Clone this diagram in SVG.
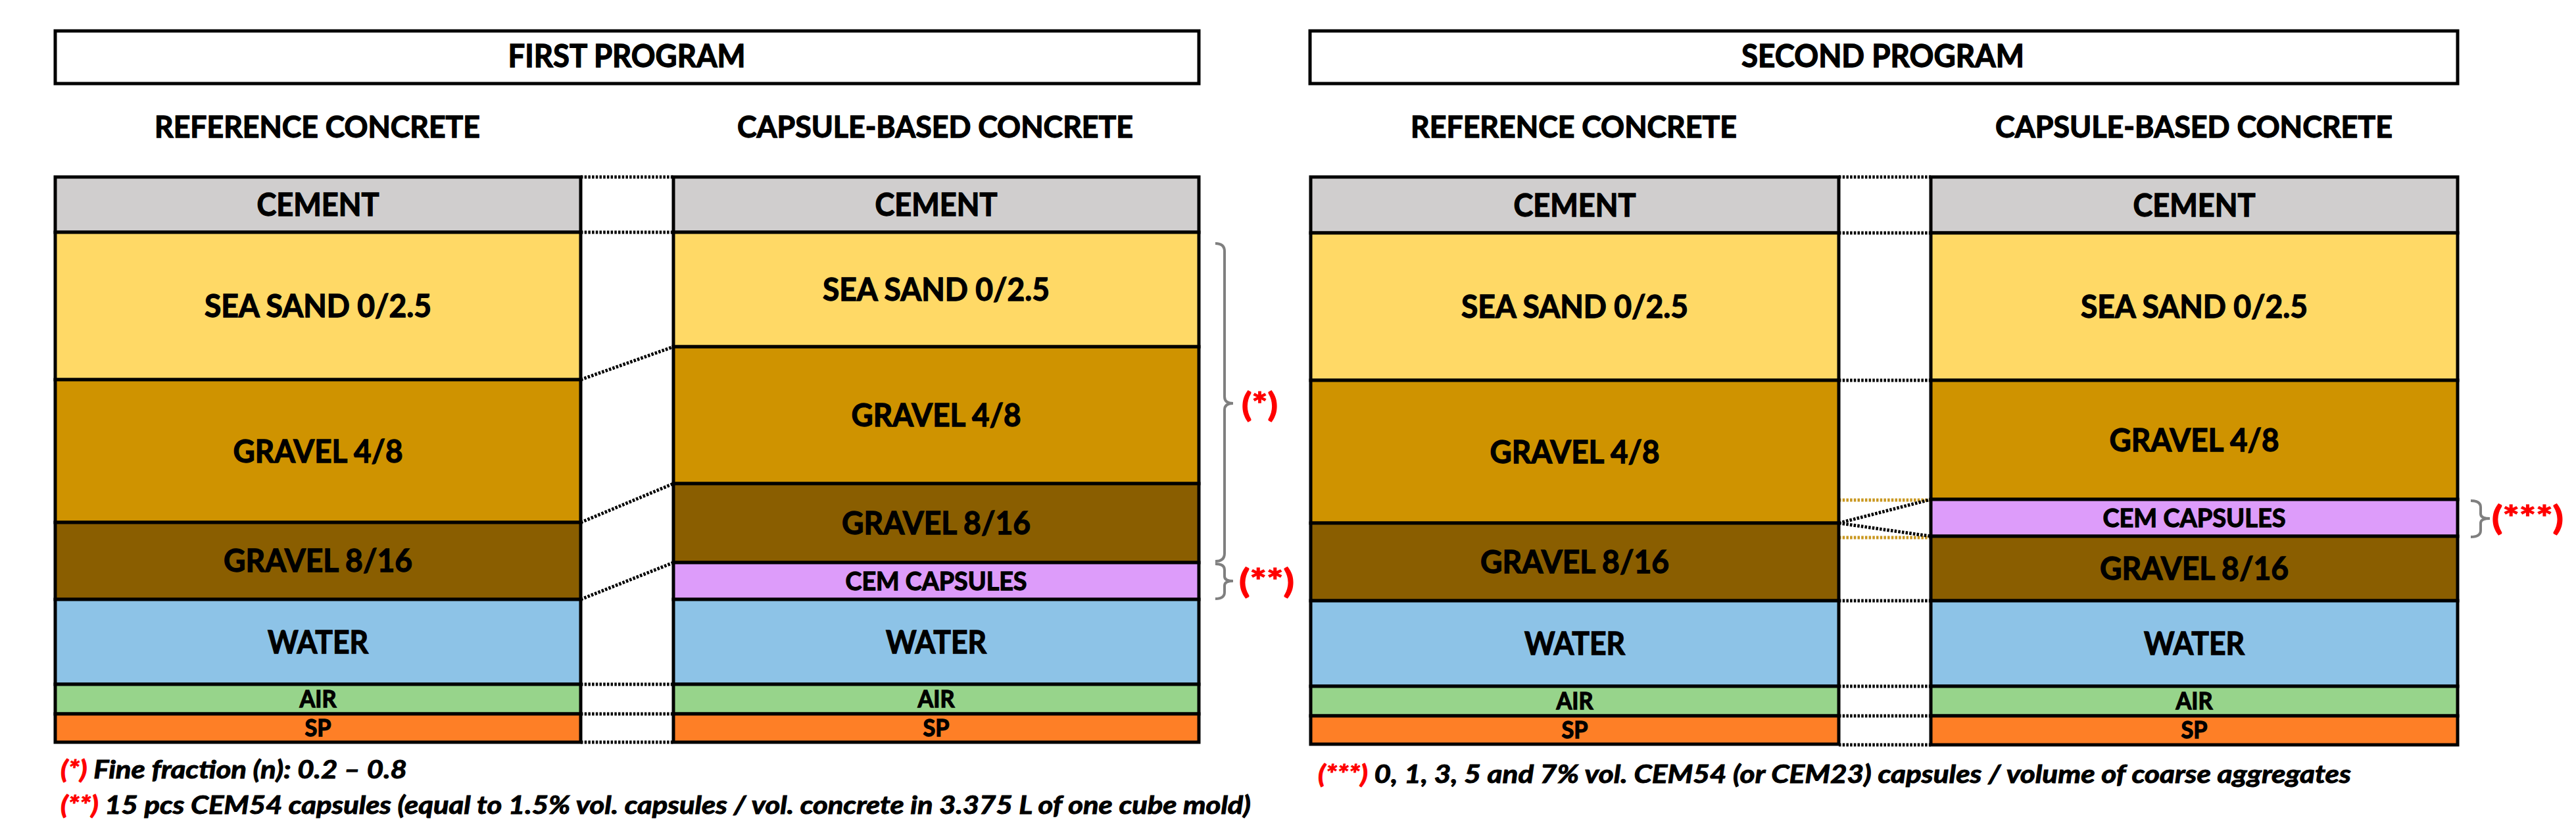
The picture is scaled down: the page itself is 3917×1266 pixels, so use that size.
<svg xmlns="http://www.w3.org/2000/svg" width="3917" height="1266" viewBox="0 0 3917 1266">
<style>
  text { font-family: Lato, "Liberation Sans", "DejaVu Sans", sans-serif; font-weight: bold; fill: #000; stroke: #000; stroke-width: 1.3; }
  .box { fill: #fff; stroke: #000; stroke-width: 5; }
  .lay { stroke: #000; stroke-width: 5; }
  .cem { fill: #d0cece; }
  .sand { fill: #ffd966; }
  .g48 { fill: #cf9300; }
  .g816 { fill: #8a5e00; }
  .caps { fill: #dd9cfa; }
  .wat { fill: #8dc3e7; }
  .air { fill: #97d48b; }
  .sp { fill: #fe7f26; }
  .lbl { font-size: 48px; text-anchor: middle; }
  .sm { font-size: 36px; text-anchor: middle; }
  .cl { font-size: 39px; text-anchor: middle; }
  .hdr { font-size: 46px; text-anchor: middle; }
  .ttl { font-size: 47px; text-anchor: middle; }
  .note { font-size: 38px; font-style: italic; stroke-width: 1; }
  .red { fill: #ff0000; stroke: #ff0000; }
  .mark { font-size: 50px; fill: #ff0000; stroke: #ff0000; }
  .dot { stroke: #000; stroke-width: 5; stroke-dasharray: 3.5 2.2; fill: none; }
  .gold { stroke: #c9971f; stroke-width: 5; stroke-dasharray: 3.5 2.2; fill: none; }
  .brace { stroke: #7f7f7f; stroke-width: 4; fill: none; }
</style>

<g id="connectors">
  <line class="dot" x1="883" y1="269" x2="1024" y2="269"/>
  <line class="dot" x1="883" y1="353" x2="1024" y2="353"/>
  <line class="dot" x1="883" y1="577" x2="1024" y2="527"/>
  <line class="dot" x1="883" y1="794" x2="1024" y2="735"/>
  <line class="dot" x1="883" y1="911" x2="1024" y2="855"/>
  <line class="dot" x1="883" y1="1040" x2="1024" y2="1040"/>
  <line class="dot" x1="883" y1="1085" x2="1024" y2="1085"/>
  <line class="dot" x1="883" y1="1128" x2="1024" y2="1128"/>

  <line class="dot" x1="2796" y1="269" x2="2936" y2="269"/>
  <line class="dot" x1="2796" y1="354" x2="2936" y2="354"/>
  <line class="dot" x1="2796" y1="578" x2="2936" y2="578"/>
  <line class="gold" x1="2796" y1="760" x2="2936" y2="760"/>
  <line class="gold" x1="2796" y1="817" x2="2936" y2="817"/>
  <line class="dot" x1="2796" y1="795" x2="2936" y2="759"/>
  <line class="dot" x1="2796" y1="795" x2="2936" y2="815"/>
  <line class="dot" x1="2796" y1="913" x2="2936" y2="913"/>
  <line class="dot" x1="2796" y1="1043" x2="2936" y2="1043"/>
  <line class="dot" x1="2796" y1="1088" x2="2936" y2="1088"/>
  <line class="dot" x1="2796" y1="1132" x2="2936" y2="1132"/>
</g>

<g id="first-program-title">
  <rect class="box" x="84" y="47" width="1739" height="80"/>
  <text class="ttl" x="953" y="102" textLength="361" lengthAdjust="spacingAndGlyphs">FIRST PROGRAM</text>
</g>
<g id="second-program-title">
  <rect class="box" x="1992" y="47" width="1745" height="80"/>
  <text class="ttl" x="2863" y="102" textLength="430" lengthAdjust="spacingAndGlyphs">SECOND PROGRAM</text>
</g>

<g id="headers">
  <text class="hdr" x="482.5" y="209" textLength="495" lengthAdjust="spacingAndGlyphs">REFERENCE CONCRETE</text>
  <text class="hdr" x="1422" y="209" textLength="602" lengthAdjust="spacingAndGlyphs">CAPSULE-BASED CONCRETE</text>
  <text class="hdr" x="2393" y="209" textLength="496" lengthAdjust="spacingAndGlyphs">REFERENCE CONCRETE</text>
  <text class="hdr" x="3336" y="209" textLength="604" lengthAdjust="spacingAndGlyphs">CAPSULE-BASED CONCRETE</text>
</g>

<!-- First program, reference concrete -->
<g id="p1-ref">
  <g id="p1-ref-cement"><rect class="lay cem" x="84" y="269" width="799" height="84"/><text class="lbl" x="483.5" y="328" textLength="186" lengthAdjust="spacingAndGlyphs">CEMENT</text></g>
  <g id="p1-ref-sand"><rect class="lay sand" x="84" y="353" width="799" height="224"/><text class="lbl" x="483.5" y="482" textLength="345" lengthAdjust="spacingAndGlyphs">SEA SAND 0/2.5</text></g>
  <g id="p1-ref-g48"><rect class="lay g48" x="84" y="577" width="799" height="217"/><text class="lbl" x="483.5" y="703" textLength="258" lengthAdjust="spacingAndGlyphs">GRAVEL 4/8</text></g>
  <g id="p1-ref-g816"><rect class="lay g816" x="84" y="794" width="799" height="117"/><text class="lbl" x="483.5" y="869" textLength="287" lengthAdjust="spacingAndGlyphs">GRAVEL 8/16</text></g>
  <g id="p1-ref-water"><rect class="lay wat" x="84" y="911" width="799" height="129"/><text class="lbl" x="483.5" y="993" textLength="153" lengthAdjust="spacingAndGlyphs">WATER</text></g>
  <g id="p1-ref-air"><rect class="lay air" x="84" y="1040" width="799" height="45"/><text class="sm" x="483.5" y="1075" textLength="56" lengthAdjust="spacingAndGlyphs">AIR</text></g>
  <g id="p1-ref-sp"><rect class="lay sp" x="84" y="1085" width="799" height="43"/><text class="sm" x="483.5" y="1119" textLength="40" lengthAdjust="spacingAndGlyphs">SP</text></g>
</g>

<!-- First program, capsule-based concrete -->
<g id="p1-cap">
  <g id="p1-cap-cement"><rect class="lay cem" x="1024" y="269" width="799" height="84"/><text class="lbl" x="1423.5" y="328" textLength="186" lengthAdjust="spacingAndGlyphs">CEMENT</text></g>
  <g id="p1-cap-sand"><rect class="lay sand" x="1024" y="353" width="799" height="174"/><text class="lbl" x="1423.5" y="457" textLength="345" lengthAdjust="spacingAndGlyphs">SEA SAND 0/2.5</text></g>
  <g id="p1-cap-g48"><rect class="lay g48" x="1024" y="527" width="799" height="208"/><text class="lbl" x="1423.5" y="648" textLength="258" lengthAdjust="spacingAndGlyphs">GRAVEL 4/8</text></g>
  <g id="p1-cap-g816"><rect class="lay g816" x="1024" y="735" width="799" height="120"/><text class="lbl" x="1423.5" y="812" textLength="287" lengthAdjust="spacingAndGlyphs">GRAVEL 8/16</text></g>
  <g id="p1-cap-caps"><rect class="lay caps" x="1024" y="855" width="799" height="56"/><text class="cl" x="1423.5" y="897" textLength="276" lengthAdjust="spacingAndGlyphs">CEM CAPSULES</text></g>
  <g id="p1-cap-water"><rect class="lay wat" x="1024" y="911" width="799" height="129"/><text class="lbl" x="1423.5" y="993" textLength="153" lengthAdjust="spacingAndGlyphs">WATER</text></g>
  <g id="p1-cap-air"><rect class="lay air" x="1024" y="1040" width="799" height="45"/><text class="sm" x="1423.5" y="1075" textLength="56" lengthAdjust="spacingAndGlyphs">AIR</text></g>
  <g id="p1-cap-sp"><rect class="lay sp" x="1024" y="1085" width="799" height="43"/><text class="sm" x="1423.5" y="1119" textLength="40" lengthAdjust="spacingAndGlyphs">SP</text></g>
</g>

<!-- Second program, reference concrete -->
<g id="p2-ref">
  <g id="p2-ref-cement"><rect class="lay cem" x="1993" y="269" width="803" height="85"/><text class="lbl" x="2394.5" y="329" textLength="186" lengthAdjust="spacingAndGlyphs">CEMENT</text></g>
  <g id="p2-ref-sand"><rect class="lay sand" x="1993" y="354" width="803" height="224"/><text class="lbl" x="2394.5" y="483" textLength="345" lengthAdjust="spacingAndGlyphs">SEA SAND 0/2.5</text></g>
  <g id="p2-ref-g48"><rect class="lay g48" x="1993" y="578" width="803" height="217"/><text class="lbl" x="2394.5" y="704" textLength="258" lengthAdjust="spacingAndGlyphs">GRAVEL 4/8</text></g>
  <g id="p2-ref-g816"><rect class="lay g816" x="1993" y="795" width="803" height="118"/><text class="lbl" x="2394.5" y="871" textLength="287" lengthAdjust="spacingAndGlyphs">GRAVEL 8/16</text></g>
  <g id="p2-ref-water"><rect class="lay wat" x="1993" y="913" width="803" height="130"/><text class="lbl" x="2394.5" y="995" textLength="153" lengthAdjust="spacingAndGlyphs">WATER</text></g>
  <g id="p2-ref-air"><rect class="lay air" x="1993" y="1043" width="803" height="45"/><text class="sm" x="2394.5" y="1078" textLength="56" lengthAdjust="spacingAndGlyphs">AIR</text></g>
  <g id="p2-ref-sp"><rect class="lay sp" x="1993" y="1088" width="803" height="43"/><text class="sm" x="2394.5" y="1122" textLength="40" lengthAdjust="spacingAndGlyphs">SP</text></g>
</g>

<!-- Second program, capsule-based concrete -->
<g id="p2-cap">
  <g id="p2-cap-cement"><rect class="lay cem" x="2936" y="269" width="801" height="85"/><text class="lbl" x="3336.5" y="329" textLength="186" lengthAdjust="spacingAndGlyphs">CEMENT</text></g>
  <g id="p2-cap-sand"><rect class="lay sand" x="2936" y="354" width="801" height="224"/><text class="lbl" x="3336.5" y="483" textLength="345" lengthAdjust="spacingAndGlyphs">SEA SAND 0/2.5</text></g>
  <g id="p2-cap-g48"><rect class="lay g48" x="2936" y="578" width="801" height="181"/><text class="lbl" x="3336.5" y="686" textLength="258" lengthAdjust="spacingAndGlyphs">GRAVEL 4/8</text></g>
  <g id="p2-cap-caps"><rect class="lay caps" x="2936" y="759" width="801" height="56"/><text class="cl" x="3336.5" y="801" textLength="278" lengthAdjust="spacingAndGlyphs">CEM CAPSULES</text></g>
  <g id="p2-cap-g816"><rect class="lay g816" x="2936" y="815" width="801" height="98"/><text class="lbl" x="3336.5" y="881" textLength="287" lengthAdjust="spacingAndGlyphs">GRAVEL 8/16</text></g>
  <g id="p2-cap-water"><rect class="lay wat" x="2936" y="913" width="801" height="130"/><text class="lbl" x="3336.5" y="995" textLength="153" lengthAdjust="spacingAndGlyphs">WATER</text></g>
  <g id="p2-cap-air"><rect class="lay air" x="2936" y="1043" width="801" height="45"/><text class="sm" x="3336.5" y="1078" textLength="56" lengthAdjust="spacingAndGlyphs">AIR</text></g>
  <g id="p2-cap-sp"><rect class="lay sp" x="2936" y="1088" width="801" height="44"/><text class="sm" x="3336.5" y="1122" textLength="40" lengthAdjust="spacingAndGlyphs">SP</text></g>
</g>

<g id="brace-fine">
  <path class="brace" d="M1848,370 Q1862,370 1862,382 L1862,603 Q1862,613 1875,613 Q1862,613 1862,623 L1862,841 Q1862,853 1848,853"/>
  <text class="mark" x="1888" y="633" textLength="55" lengthAdjust="spacingAndGlyphs">(*)</text>
</g>
<g id="brace-capsules-1">
  <path class="brace" d="M1848,857 Q1862,857 1862,866 L1862,876 Q1862,883 1875,883 Q1862,883 1862,890 L1862,900 Q1862,910 1848,910"/>
  <text class="mark" x="1884" y="901" textLength="84" lengthAdjust="spacingAndGlyphs">(**)</text>
</g>
<g id="brace-capsules-2">
  <path class="brace" d="M3757,761 Q3772,761 3772,771 L3772,781 Q3772,788 3786,788 Q3772,788 3772,795 L3772,806 Q3772,816 3757,816"/>
  <text class="mark" x="3789" y="805" textLength="109" lengthAdjust="spacingAndGlyphs">(***)</text>
</g>

<g id="notes">
  <text class="note" x="92" y="1183" textLength="527" lengthAdjust="spacingAndGlyphs"><tspan class="red">(*)</tspan> Fine fraction (n): 0.2 – 0.8</text>
  <text class="note" x="92" y="1237" textLength="1810" lengthAdjust="spacingAndGlyphs"><tspan class="red">(**)</tspan> 15 pcs CEM54 capsules (equal to 1.5% vol. capsules / vol. concrete in 3.375 L of one cube mold)</text>
  <text class="note" x="2004" y="1190" textLength="1571" lengthAdjust="spacingAndGlyphs"><tspan class="red">(***)</tspan> 0, 1, 3, 5 and 7% vol. CEM54 (or CEM23) capsules / volume of coarse aggregates</text>
</g>
</svg>
